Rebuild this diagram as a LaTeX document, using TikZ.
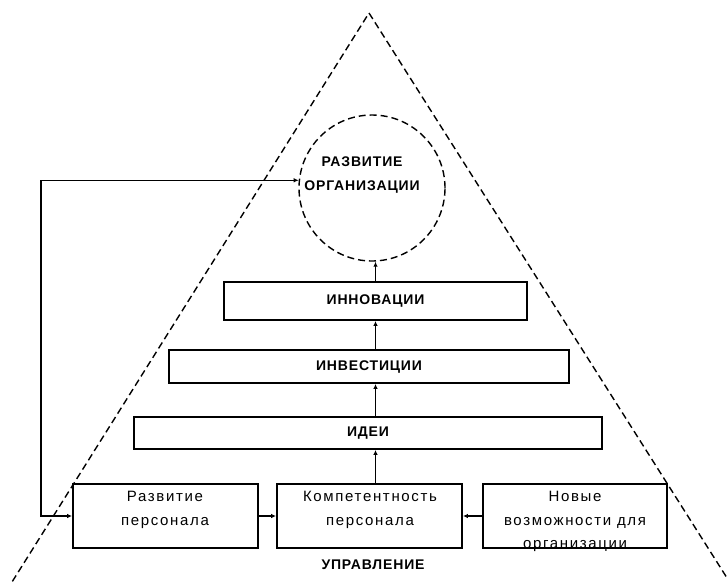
\documentclass[tikz,border=0pt]{standalone}
\usepackage{fontspec}
\setmainfont{Liberation Sans}
\newfontfamily\capsfont[LetterSpace=6]{Liberation Sans}
\newfontfamily\lowfont[LetterSpace=11]{Liberation Sans}
\usetikzlibrary{arrows.meta,calc}
\begin{document}
\begin{tikzpicture}[x=1pt,y=-1pt,
  box/.style={draw, line width=1.8pt, rectangle, inner sep=0pt},
  captext/.style={font=\capsfont\bfseries\fontsize{14}{16}\selectfont, inner sep=0pt},
  lowtext/.style={font=\lowfont\fontsize{15}{23.5}\selectfont, align=center, inner sep=0pt},
  tri/.style={line width=1.4pt, dash pattern=on 7pt off 4pt},
  arr/.style={line width=1.5pt, -{Latex[length=5pt,width=4.5pt]}},
  arrboth/.style={line width=1.5pt, {Latex[length=5pt,width=4.5pt]}-{Latex[length=5pt,width=4.5pt]}}
]
\useasboundingbox (0,0) rectangle (727,582);
\fill[white] (0,0) rectangle (727,582);
\begin{scope}
  \clip (0,0) rectangle (727,582);
  \draw[tri] (0.7,600) -- (369,13) -- (741,600);
\end{scope}

% circle
\node[draw, circle, tri, minimum size=146pt, inner sep=0pt] (org) at (372,188) {};
\node[captext, align=center, font=\capsfont\bfseries\fontsize{14}{24}\selectfont] (orgtext) at (362,175) {РАЗВИТИЕ\\ОРГАНИЗАЦИИ};

% stacked boxes
\node[box, minimum width=303pt, minimum height=38pt] (innov) at (375.5,301) {};
\node[captext] (innovt) at (innov.center) {ИННОВАЦИИ};
\node[box, minimum width=400pt, minimum height=33pt] (invest) at (369,366.5) {};
\node[captext] (investt) at (invest.center) {ИНВЕСТИЦИИ};
\node[box, minimum width=468pt, minimum height=32pt] (idei) at (368,433) {};
\node[captext] (ideit) at (idei.center) {ИДЕИ};

% bottom boxes
\node[box, minimum width=185pt, minimum height=64pt] (razv) at (165.5,516) {};
\node[lowtext] (razvt) at (165,510) {Развитие\\персонала};
\node[box, minimum width=185pt, minimum height=64pt] (komp) at (369.5,516) {};
\node[lowtext] (kompt) at (370,510) {Компетентность\\персонала};
\node[box, minimum width=184pt, minimum height=64pt] (nov) at (575,516) {};
\node[lowtext] (novt) at (575,521.5) {Новые\\возможности для\\организации};

\node[captext] (upr) at (373,565) {УПРАВЛЕНИЕ};

% arrows
\draw[arr] (innov.north) -- (org.south -| innov.north);
\draw[arr] (invest.north -| innov.south) -- (innov.south);
\draw[arr] (idei.north -| innov.south) -- (invest.south -| innov.south);
\draw[arr] (komp.north -| innov.south) -- (idei.south -| innov.south);
\draw[arr] (razv.east) -- (komp.west);
\draw[arr] (nov.west) -- (komp.east);
\draw[arrboth] (razv.west) -- ++(-31,0) |- (org.174);
\end{tikzpicture}
\end{document}
